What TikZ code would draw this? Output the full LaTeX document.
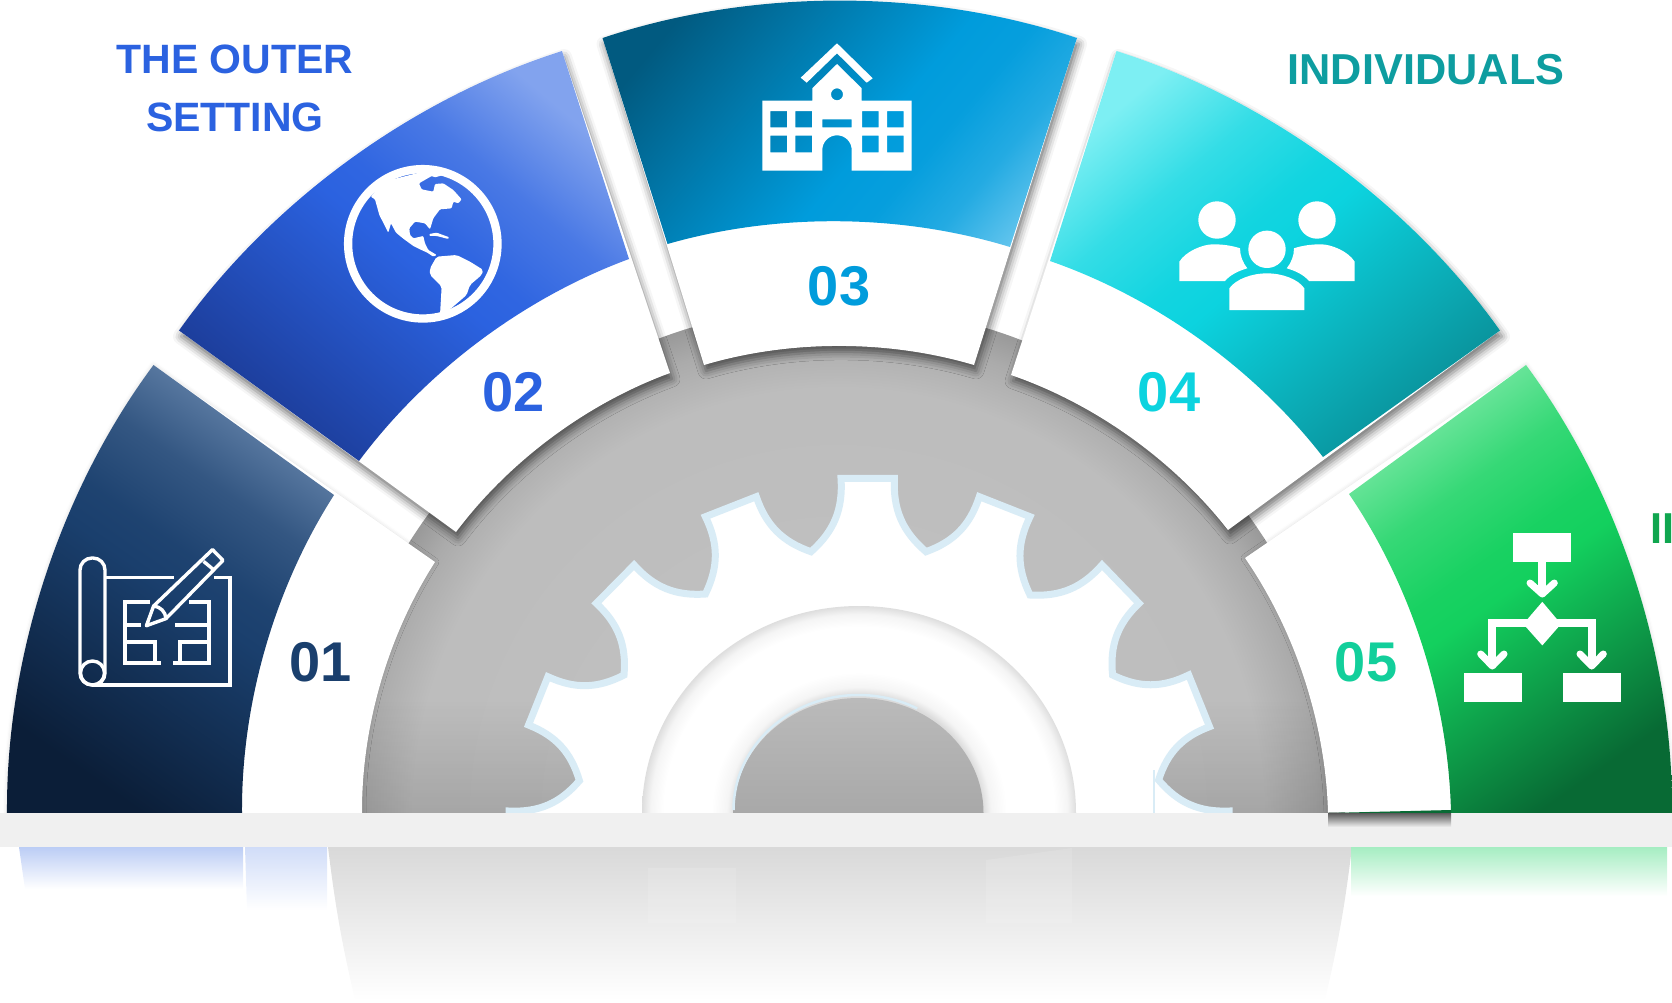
\documentclass[tikz,border=0pt]{standalone}
\usepackage{xcolor}
\usepackage{fontspec}
\usepackage{tikz}
\usetikzlibrary{shadows.blur, fadings}
\setmainfont{Liberation Sans}

\definecolor{navy}{HTML}{1A3F6D}
\definecolor{navydark}{HTML}{0B1E38}
\definecolor{navylight}{HTML}{6483AA}
\definecolor{royal}{HTML}{2B62E0}
\definecolor{royaldark}{HTML}{1C3C98}
\definecolor{royallight}{HTML}{82A3EE}
\definecolor{sky}{HTML}{009CDC}
\definecolor{skydark}{HTML}{015A80}
\definecolor{skylight}{HTML}{66C6EE}
\definecolor{cyan}{HTML}{0CD3DF}
\definecolor{cyandark}{HTML}{0A929B}
\definecolor{cyanlight}{HTML}{7DEFF3}
\definecolor{leaf}{HTML}{13D05E}
\definecolor{leafdark}{HTML}{086A34}
\definecolor{leaflight}{HTML}{78E8A4}
\definecolor{gearedge}{HTML}{D9ECF6}
\definecolor{shelfgray}{HTML}{F0F0F0}
\definecolor{fivetext}{HTML}{12CF9B}
\definecolor{individualstext}{HTML}{0E9DA0}
\definecolor{innertext}{HTML}{10A64F}

\pgfdeclareverticalshading{navyshade}{100bp}{color(0bp)=(navydark); color(25bp)=(navydark); color(50bp)=(navy); color(55bp)=(navy!94!navylight); color(64bp)=(navy!65!navylight); color(75bp)=(navylight); color(100bp)=(navylight)}
\pgfdeclareverticalshading{royalshade}{100bp}{color(0bp)=(royaldark); color(25bp)=(royaldark); color(50bp)=(royal); color(55bp)=(royal!94!royallight); color(64bp)=(royal!65!royallight); color(75bp)=(royallight); color(100bp)=(royallight)}
\pgfdeclareverticalshading{skyshade}{100bp}{color(0bp)=(skydark); color(25bp)=(skydark); color(55bp)=(sky); color(62bp)=(sky!94!skylight); color(70bp)=(sky!65!skylight); color(79bp)=(skylight); color(100bp)=(skylight)}
\pgfdeclareverticalshading{cyanshade}{100bp}{color(0bp)=(cyandark); color(25bp)=(cyandark); color(50bp)=(cyan); color(55bp)=(cyan!94!cyanlight); color(64bp)=(cyan!65!cyanlight); color(75bp)=(cyanlight); color(100bp)=(cyanlight)}
\pgfdeclareverticalshading{leafshade}{100bp}{color(0bp)=(leafdark); color(25bp)=(leafdark); color(50bp)=(leaf); color(55bp)=(leaf!94!leaflight); color(64bp)=(leaf!65!leaflight); color(75bp)=(leaflight); color(100bp)=(leaflight)}

\pgfdeclareradialshading{diskshade}{\pgfpoint{0bp}{0bp}}{
    color(0bp)=(gray!60!white);
    color(12bp)=(black!25);
    color(21bp)=(black!26);
    color(23.5bp)=(black!33);
    color(25bp)=(black!40);
    color(50bp)=(black!40)}
\pgfdeclareradialshading{ringshade}{\pgfpoint{0bp}{0bp}}{
    color(0bp)=(black!14);
    color(14.2bp)=(black!14);
    color(15.2bp)=(black!4);
    color(17bp)=(white);
    color(22.5bp)=(white);
    color(24bp)=(black!4);
    color(25bp)=(black!13);
    color(50bp)=(black!13)}

\tikzset{
    bulge/.style={bend left=18.5, looseness=0.85},
    hollow/.style={bend right=16.5, looseness=0.85},
    bite/.style={bend right=26},
    heavyshadow/.style={blur shadow={shadow xshift=2pt, shadow yshift=-6pt, shadow blur radius=8pt, shadow opacity=55}},
    softshadow/.style={blur shadow={shadow xshift=0pt, shadow yshift=0pt, shadow blur radius=4pt, shadow opacity=14}},
    iconline/.style={draw=white, line width=3.4pt},
    iconarrow/.style={draw=white, line width=7pt, line cap=round, line join=round},
    iconstem/.style={draw=white, line width=8pt},
    numlabel/.style={font=\fontsize{56}{56}\selectfont\bfseries},
    headlabel/.style={font=\fontsize{41}{58}\selectfont\bfseries, align=center},
    widelabel/.style={font=\fontsize{43.3}{43.3}\selectfont\bfseries},
}

\begin{document}
\begin{tikzpicture}[x=1pt, y=-1pt]
    \useasboundingbox (0, 0) rectangle (1672, 1002);

    \shade[top color=black!15, bottom color=white] (328, 847) to[bend right=3] (355, 1000) -- (1325, 1000) to[bend right=3] (1352, 847) -- cycle;
    \fill[white, opacity=0.12] (648, 868) rectangle (736, 923);
    \fill[white, opacity=0.12] (986, 860) -- (1072, 848) -- (1072, 923) -- (986, 923) -- cycle;
    \shade[top color=royal!32, bottom color=white] (19, 847) -- (25, 889) -- (243, 889) -- (243, 847) -- cycle;
    \shade[top color=royal!22, bottom color=white] (245, 847) -- (247, 910) -- (327, 910) -- (327, 847) -- cycle;
    \shade[top color=leaf!38, bottom color=white] (1351, 847) -- (1351, 896) -- (1667, 896) -- (1667, 847) -- cycle;

    \begin{scope}
        \clip (0, 0) rectangle (1672, 830);
        \shade[shading=diskshade] (838, 813) circle[radius=507pt];
        \fill[black, opacity=0.12, path fading=north] (340, 700) rectangle (1340, 813);
        \draw[draw=gearedge, fill=white, line width=7pt] (509, 840) -- (509, 811) to[bite] (579.4, 780.7) to[bite] (528.5, 725)
            -- (547.9, 676.7) to[bite] (624, 675) to[bite] (596.3, 603.3)
            -- (634.1, 565) to[bite] (705.4, 594) to[bite] (705.4, 516.7)
            -- (756.3, 496.7) to[bite] (811, 551.7) to[bite] (841, 478.3)
            -- (894.4, 478.3) to[bite] (926, 551.7) to[bite] (979.3, 496.7)
            -- (1030, 516.7) to[bite] (1030, 595) to[bite] (1102, 565)
            -- (1139, 603.3) to[bite] (1112.6, 675) to[bite] (1188.7, 675)
            -- (1209.5, 726.7) to[bite] (1158.6, 780) to[bite] (1229, 811) -- (1229, 840) -- cycle;
        \draw[draw=gearedge, line width=2.5pt] (1154, 770) -- (1154, 815);
        \shade[shading=ringshade] (859, 813) ellipse[x radius=217pt, y radius=207pt];
    \end{scope}
    \shade[top color=black!27, bottom color=black!34] (733.5, 813) arc[start angle=180, end angle=0, x radius=125pt, y radius=115pt] -- cycle;
    \draw[draw=gearedge, line width=2.5pt] (733.5, 810) arc[start angle=180, end angle=62, x radius=125pt, y radius=115pt];

    \fill[white, softshadow] (7, 813) to[bulge] (153.5, 365) -- (435, 562) to[hollow] (362, 813) -- cycle;
    \shade[shading=navyshade, shading angle=-35] (7, 813) to[bulge] (153.5, 365) -- (334, 495) to[hollow] (242, 813) -- cycle;

    \fill[white, softshadow] (1526, 365) to[bulge] (1672, 813) -- (1451, 813) -- (1451, 810) -- (1328, 812.5) to[hollow] (1245, 558) -- cycle;
    \shade[shading=leafshade, shading angle=35] (1526, 365) to[bulge] (1672, 813) -- (1451, 813) to[hollow] (1349, 494) -- cycle;

    \fill[white, heavyshadow] (179, 330.5) to[bulge] (562, 51) -- (670, 373) to[hollow] (456, 532) -- cycle;
    \shade[shading=royalshade, shading angle=-40] (179, 330.5) to[bulge] (562, 51) -- (629, 259) to[hollow] (359, 461) -- cycle;

    \fill[white, heavyshadow] (1116.5, 51) to[bulge] (1500, 330.5) -- (1228, 530) to[hollow] (1011, 375) -- cycle;
    \shade[shading=cyanshade, shading angle=40] (1116.5, 51) to[bulge] (1500, 330.5) -- (1323, 457) to[hollow] (1050, 261) -- cycle;

    \fill[white, heavyshadow] (602.5, 38) to[bulge] (1077, 38) -- (974, 365) to[hollow] (704, 365) -- cycle;
    \shade[shading=skyshade, shading angle=-130] (602.5, 38) to[bulge] (1077, 38) -- (1010, 247) to[hollow] (667.5, 244) -- cycle;

    \fill[leafdark] (1328, 813) -- (1451, 810) -- (1451, 813) -- cycle;
    \fill[shelfgray] (0, 813) rectangle (1672, 847);
    \shade[top color=black!65, bottom color=shelfgray] (1328, 813) rectangle (1451, 827);

    \draw[iconline, rounded corners=12pt] (80, 558) rectangle (105, 685);
    \draw[iconline] (92.5, 673) circle[radius=12pt];
    \draw[iconline] (105, 577.5) -- (174, 577.5);
    \draw[iconline] (214, 577.5) -- (230, 577.5) -- (230, 685) -- (92, 685);
    \draw[iconline] (150, 602) -- (125, 602) -- (125, 663) -- (161, 663);
    \draw[iconline] (125, 642) -- (155, 642) -- (155, 663);
    \draw[iconline] (125, 625) -- (141, 625);
    \draw[iconline] (189, 602) -- (209, 602) -- (209, 663) -- (173, 663);
    \draw[iconline] (209, 642) -- (180, 642) -- (180, 663);
    \draw[iconline] (175, 625) -- (209, 625);
    \draw[iconline, line join=round] (146.4, 625.7) -- (153.6, 606) -- (212.5, 549.6) -- (223, 560.4) -- (166, 618.6) -- cycle;
    \draw[iconline] (203.6, 561.4) -- (214, 570);
    \draw[iconline] (153.6, 606) to[bend left=40] (166, 618.6);

    \draw[white, line width=8.3pt] (422.8, 243.8) circle[radius=74.7pt];
    \begin{scope}[shift={(320, 140)}, x=0.3333pt, y=-0.3333pt]
        \fill[white, rounded corners=1pt] (152, 170) -- (165, 178) -- (178, 225) -- (205, 278) -- (213, 250) -- (228, 278) -- (250, 296) -- (280, 318) -- (300, 328) -- (322, 338) -- (340, 350) -- (350, 345) -- (325, 330) -- (315, 310) -- (310, 288) -- (280, 295) -- (270, 285) -- (268, 265) -- (285, 245) -- (315, 250) -- (330, 268) -- (340, 235) -- (360, 208) -- (395, 205) -- (400, 185) -- (415, 190) -- (425, 178) -- (400, 150) -- (370, 130) -- (345, 132) -- (340, 155) -- (305, 148) -- (297, 130) -- (335, 108) -- (345, 112) -- (370, 105) -- (330, 90) -- (190, 125) -- cycle;
        \fill[white, rounded corners=1pt] (328, 282) -- (350, 278) -- (388, 292) -- (385, 297) -- (350, 288) -- (328, 288) -- cycle;
        \fill[white, rounded corners=2pt] (330, 385) -- (350, 350) -- (410, 345) -- (450, 365) -- (490, 390) -- (485, 405) -- (450, 435) -- (440, 465) -- (390, 508) -- (360, 525) -- (365, 440) -- (330, 405) -- cycle;
    \end{scope}

    \fill[white, even odd rule] (837, 64) -- (861.7, 88.3) -- (861.7, 100.7) -- (911.7, 100.7) -- (911.7, 170.7) -- (851.7, 170.7) -- (851.7, 150) arc[start angle=0, end angle=180, radius=14.7pt] -- (822.3, 170.7) -- (762.3, 170.7) -- (762.3, 100.7) -- (812.3, 100.7) -- (812.3, 88.3) -- cycle
        (837, 94.3) circle[radius=6pt]
        (770.3, 111) rectangle (787, 127.3) (795.3, 111) rectangle (812, 127.3)
        (862, 111) rectangle (878.7, 127.3) (887, 111) rectangle (903.7, 127.3)
        (770.3, 135.7) rectangle (787, 152.3) (795.3, 135.7) rectangle (812, 152.3)
        (862, 135.7) rectangle (878.7, 152.3) (887, 135.7) rectangle (903.7, 152.3)
        (822.3, 119.3) rectangle (851.7, 127.3);
    \fill[white] (837, 43.3) -- (872.7, 78.3) -- (866.7, 82.7) -- (837, 53.3) -- (806.7, 82.7) -- (800.7, 77.7) -- cycle;

    \fill[white] (1217, 220) circle[radius=18.7pt];
    \fill[white] (1317, 220) circle[radius=18.7pt];
    \fill[white] (1267, 249.3) circle[radius=18.7pt];
    \fill[white] (1229.3, 310) -- (1229.3, 288.3) .. controls (1236, 279) and (1252, 273.3) .. (1267, 273.3) .. controls (1282, 273.3) and (1298, 279) .. (1304.3, 288.3) -- (1304.3, 310) -- cycle;
    \fill[white] (1179.3, 281) -- (1179.3, 261.7) .. controls (1186, 251) and (1203, 244.3) .. (1213.3, 244.3) .. controls (1222, 244.3) and (1232, 245.5) .. (1240, 248.3) .. controls (1240, 256) and (1243, 263) .. (1247.3, 268.3) .. controls (1238, 271) and (1230, 275) .. (1225, 281) -- cycle;
    \fill[white] (1354.7, 281) -- (1354.7, 261.7) .. controls (1348, 251) and (1331, 244.3) .. (1320.7, 244.3) .. controls (1312, 244.3) and (1302, 245.5) .. (1294, 248.3) .. controls (1294, 256) and (1291, 263) .. (1286.7, 268.3) .. controls (1296, 271) and (1304, 275) .. (1309, 281) -- cycle;

    \fill[white] (1513.3, 533) rectangle (1571, 561.5);
    \fill[white] (1463.7, 673) rectangle (1521.7, 702);
    \fill[white] (1563, 673) rectangle (1621, 702);
    \fill[white] (1542.3, 601.8) -- (1561, 624) -- (1542.3, 645.4) -- (1523.3, 624) -- cycle;
    \draw[iconstem] (1542.3, 561) -- (1542.3, 594);
    \draw[iconarrow] (1530, 583) -- (1542.3, 594) -- (1554.3, 583);
    \draw[iconstem] (1530, 622.7) -- (1492.3, 622.7) -- (1492.3, 665);
    \draw[iconarrow] (1480.7, 654) -- (1492.3, 666) -- (1504, 654);
    \draw[iconstem] (1555, 622.7) -- (1591.7, 622.7) -- (1591.7, 665);
    \draw[iconarrow] (1580, 654) -- (1591.7, 666) -- (1603.3, 654);

    \node[numlabel, navy] at (321, 662) (one) {01};
    \node[numlabel, royal] at (514, 392) (two) {02};
    \node[numlabel, sky] at (839, 286) (three) {03};
    \node[numlabel, cyan] at (1169, 392) (four) {04};
    \node[numlabel, fivetext] at (1366, 662) (five) {05};

    \node[headlabel, royal] at (235, 88) (outer) {THE OUTER\\SETTING};
    \node[widelabel, individualstext] at (1426, 70) (individuals) {INDIVIDUALS};
    \node[widelabel, innertext, anchor=west, inner sep=0pt] at (1650, 529) (inner) {II};
\end{tikzpicture}
\end{document}
